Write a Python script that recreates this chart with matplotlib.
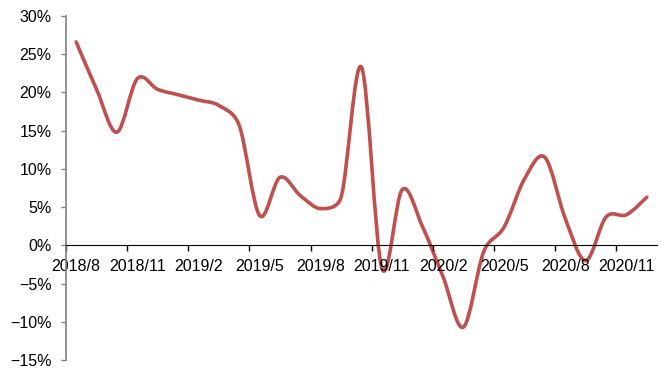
import numpy as np
import matplotlib
matplotlib.use('Agg')
import matplotlib.pyplot as plt
from matplotlib.path import Path
from matplotlib.patches import PathPatch
from matplotlib.ticker import FixedLocator, PercentFormatter

# monthly values, 2018/8 .. 2020/12 (%)
months = ['2018/8', '2018/9', '2018/10', '2018/11', '2018/12',
          '2019/1', '2019/2', '2019/3', '2019/4', '2019/5', '2019/6',
          '2019/7', '2019/8', '2019/9', '2019/10', '2019/11', '2019/12',
          '2020/1', '2020/2', '2020/3', '2020/4', '2020/5', '2020/6',
          '2020/7', '2020/8', '2020/9', '2020/10', '2020/11', '2020/12']
values = [26.6, 20.4, 14.8, 21.8, 20.4,
          19.7, 19.0, 18.3, 15.7, 3.9, 8.9,
          6.5, 4.8, 6.3, 23.3, -3.0, 7.3,
          2.4, -4.1, -10.7, -0.8, 2.4, 8.7,
          11.5, 3.5, -2.0, 3.7, 4.0, 6.3]
label_months = months[::3]

plt.rcParams['font.family'] = ['Liberation Sans', 'DejaVu Sans']

fig = plt.figure(figsize=(6.72, 3.70), dpi=100)
ax = fig.add_axes([0.0982, 0.027, 0.8795, 0.9298])
ax.set_xlim(-0.5, len(values) - 0.5)
ax.set_ylim(-15, 30)

# Excel style smoothed line: bezier segments, control arms limited by segment length
pts = ax.transData.transform(np.column_stack([np.arange(len(values)), values]))
n = len(pts)
verts = [tuple(pts[0])]
codes = [Path.MOVETO]
for i in range(n - 1):
    p0 = pts[max(i - 1, 0)]
    p1 = pts[i]
    p2 = pts[i + 1]
    p3 = pts[min(i + 2, n - 1)]
    d02 = np.hypot(*(p2 - p0))
    d12 = np.hypot(*(p2 - p1))
    d13 = np.hypot(*(p3 - p1))
    f = 1 / 6
    g = 1 / 6
    if d02 / 6 >= d12 / 2:
        f = d12 / d02 / 2
    if d13 / 6 >= d12 / 2:
        g = d12 / d13 / 2
    c1 = p1 + f * (p2 - p0)
    c2 = p2 - g * (p3 - p1)
    verts += [tuple(c1), tuple(c2), tuple(p2)]
    codes += [Path.CURVE4] * 3
verts = ax.transData.inverted().transform(np.array(verts))
ax.add_patch(PathPatch(Path(verts, codes), facecolor='none', edgecolor='#C0504D',
                       lw=2.6, capstyle='round', joinstyle='round'))

ax.set_yticks(np.arange(-15, 31, 5))
ax.yaxis.set_major_formatter(PercentFormatter(decimals=0))

label_pos = list(range(0, len(values), 3))
ax.xaxis.set_major_locator(FixedLocator(label_pos))
ax.set_xticklabels(label_months)
ax.xaxis.set_minor_locator(FixedLocator([p - 0.5 for p in label_pos]))

for s in ['top', 'right']:
    ax.spines[s].set_visible(False)
ax.spines['bottom'].set_position(('data', 0))
ax.spines['bottom'].set_color('black')
ax.spines['left'].set_color('#808080')
ax.spines['left'].set_linewidth(1.2)

ax.tick_params(axis='x', which='major', length=0, pad=10, labelsize=11.5, colors='black')
ax.tick_params(axis='x', which='minor', length=4, width=1, direction='out', color='black')
ax.tick_params(axis='y', length=3.5, width=1, direction='out', color='#808080',
               pad=7, labelsize=11.5, labelcolor='black')

fig.savefig('out.png', dpi=100)
